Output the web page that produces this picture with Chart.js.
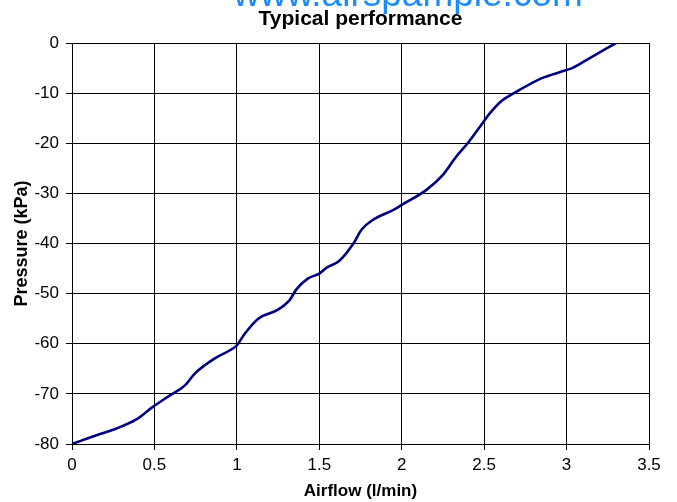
<!DOCTYPE html>
<html>
<head>
<meta charset="utf-8">
<script src="https://cdn.jsdelivr.net/npm/chart.js@4/dist/chart.umd.min.js"></script>
<style>
  html, body { margin: 0; padding: 0; background: #fff; }
  #wrap { width: 677px; height: 502px; position: relative; }
</style>
</head>
<body>
<div id="wrap"><canvas id="c" width="677" height="502"></canvas></div>
<script>
const chartTitle = 'Typical performance';
const watermark = 'www.airspample.com';
const xTitle = 'Airflow (l/min)';
const yTitle = 'Pressure (kPa)';

const airflow = [0, 0.17, 0.27, 0.39, 0.49, 0.594, 0.685, 0.746, 0.867, 0.958, 1.0, 1.05, 1.13, 1.25, 1.32, 1.36, 1.43, 1.50, 1.545, 1.62, 1.707, 1.757, 1.83, 1.95, 2.0, 2.15, 2.25, 2.33, 2.40, 2.49, 2.535, 2.60, 2.687, 2.85, 3.0, 3.04, 3.12, 3.30];
const pressure = [-80, -78, -76.9, -75.1, -72.6, -70.3, -68.3, -65.9, -62.9, -61.3, -60.3, -57.9, -55.0, -53.2, -51.3, -49.2, -47.0, -46.0, -44.8, -43.5, -40.0, -37.2, -35.2, -33.3, -32.3, -29.3, -26.3, -22.7, -20.0, -16.0, -14.0, -11.7, -9.9, -7.0, -5.4, -4.9, -3.4, 0];

const xMin = 0, xMax = 3.5, xStep = 0.5;
const yMin = -80, yMax = 0, yStep = 10;

const FONT = '"Liberation Sans", Arial, sans-serif';

const watermarkPlugin = {
  id: 'watermark',
  afterDraw(chart) {
    const ctx = chart.ctx;
    ctx.save();
    ctx.font = '37px ' + FONT;
    ctx.fillStyle = '#1a8cff';
    ctx.textAlign = 'center';
    ctx.textBaseline = 'alphabetic';
    ctx.fillText(watermark, 408, 6);
    ctx.restore();
  }
};

new Chart(document.getElementById('c'), {
  type: 'line',
  data: {
    datasets: [{
      data: airflow.map((x, i) => ({ x: x, y: pressure[i] })),
      borderColor: '#000080',
      borderWidth: 2.6,
      pointRadius: 0,
      fill: false,
      cubicInterpolationMode: 'monotone'
    }]
  },
  options: {
    responsive: false,
    animation: false,
    devicePixelRatio: 1,
    layout: { padding: { left: 0, right: 28, top: 0, bottom: 0 } },
    plugins: {
      legend: { display: false },
      tooltip: { enabled: false },
      title: {
        display: true,
        text: chartTitle,
        fullSize: false,
        color: '#000',
        font: { family: FONT, size: 21, weight: 'bold', lineHeight: 1.2 },
        padding: { top: 7, bottom: 10.8 }
      }
    },
    scales: {
      x: {
        type: 'linear',
        min: xMin, max: xMax,
        afterBuildTicks(scale) {
          const t = [];
          for (let v = xMin; v <= xMax + 1e-9; v += xStep) t.push({ value: Math.round(v * 10) / 10 });
          scale.ticks = t;
        },
        afterFit(scale) { scale.height = 58; },
        grid: { color: '#000', lineWidth: 1, tickColor: '#000', tickLength: 6, drawTicks: true },
        border: { color: '#000', width: 1 },
        ticks: {
          color: '#000', padding: 5, maxRotation: 0,
          font: { family: FONT, size: 17 },
          callback: v => String(v)
        },
        title: {
          display: true, text: xTitle, color: '#000',
          font: { family: FONT, size: 17, weight: 'bold', lineHeight: 1.2 },
          padding: { top: 0, bottom: 0 }
        }
      },
      y: {
        type: 'linear',
        min: yMin, max: yMax,
        afterBuildTicks(scale) {
          const t = [];
          for (let v = yMin; v <= yMax; v += yStep) t.push({ value: v });
          scale.ticks = t;
        },
        afterFit(scale) { scale.width = 72; },
        grid: { color: '#000', lineWidth: 1, tickColor: '#000', tickLength: 6, drawTicks: true },
        border: { color: '#000', width: 1 },
        ticks: {
          color: '#000', padding: 7,
          font: { family: FONT, size: 17 },
          callback: v => String(v)
        },
        title: {
          display: true, text: yTitle, color: '#000',
          font: { family: FONT, size: 18, weight: 'bold', lineHeight: 1.2 },
          padding: { top: 11, bottom: 0 }
        }
      }
    }
  },
  plugins: [watermarkPlugin]
});
</script>
</body>
</html>
